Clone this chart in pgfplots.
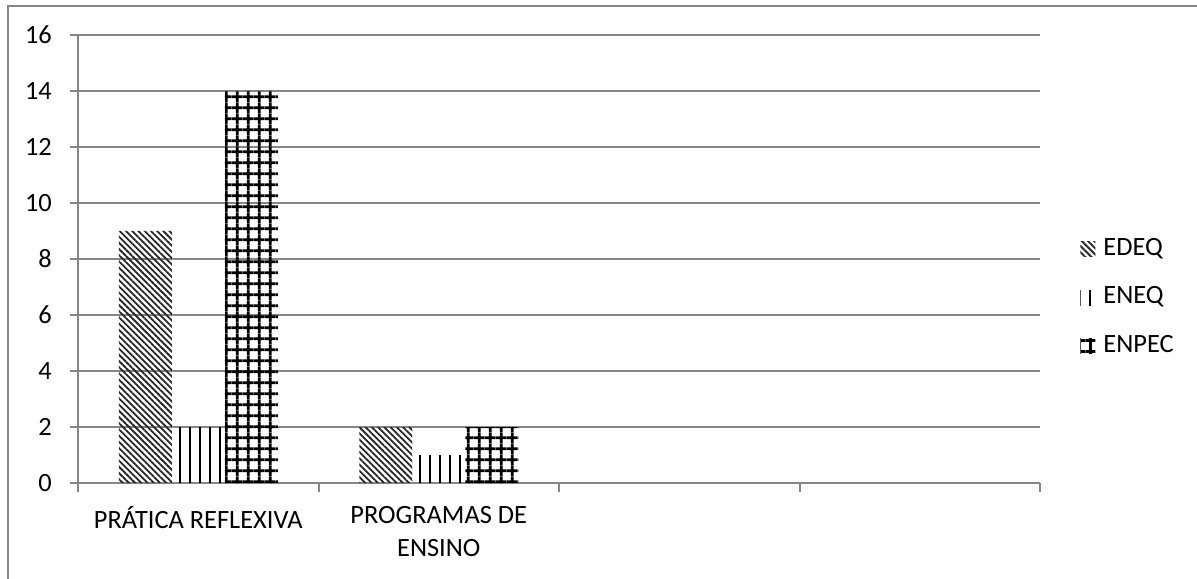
\documentclass[border=0pt]{standalone}
\usepackage{fontspec}
\setmainfont{Carlito}
\usepackage{pgfplots}
\pgfplotsset{compat=1.18}
\usetikzlibrary{patterns.meta}
\definecolor{axisgray}{RGB}{134,134,134}
\begin{document}
\fontsize{13.2}{16}\selectfont
\begin{tikzpicture}
\useasboundingbox (0,0) rectangle (598.5pt,289pt);
% outer chart frame
\draw[axisgray, line width=1pt] (4pt,-2pt) -- (4pt,286pt) -- (602pt,286pt);
\begin{axis}[
  at={(39pt,47.5pt)}, anchor=south west,
  scale only axis, width=481pt, height=224pt,
  xmin=-0.5, xmax=3.5, ymin=0, ymax=16,
  ytick={0,2,...,16},
  xtick={0,1,2,3},
  xticklabels={PRÁTICA REFLEXIVA,{PROGRAMAS DE\\ENSINO},,},
  minor xtick={-0.5,0.5,1.5,2.5,3.5},
  major x tick style={draw=none},
  axis x line*=bottom, axis y line*=left,
  axis line style={axisgray, line width=1pt},
  ymajorgrids, grid style={axisgray, line width=1pt},
  tick style={axisgray, line width=1pt},
  major tick length=4pt, minor tick length=4.5pt, tick align=outside,
  /pgf/number format/assume math mode=true,
  ticklabel style={font=\fontsize{13.2}{16.5}\selectfont},
  yticklabel style={xshift=-4.5pt},
  xticklabel style={align=center, yshift=-3pt},
  ybar, bar width=26.5pt,
  legend style={at={(1.0416,0.413)}, anchor=west, draw=none, fill=none,
    inner sep=0pt, row sep=12.25pt,
    nodes={text height=9pt, text depth=3pt, inner sep=0pt},
    font=\fontsize{13.2}{16}\selectfont},
  legend cell align=left,
  /tikz/every odd column/.append style={column sep=4pt},
]
\pgfplotsset{mylegend/.style={legend image code/.code={%
  \fill[##1,draw=none] (0pt,-3.75pt) rectangle (7.5pt,3.75pt);}}}
\addplot[draw=none, bar shift=-26.5pt, mylegend,
  pattern={Lines[angle=-45,distance=2.2pt,line width=0.9pt]}, pattern color=black!85]
  coordinates {(0,9) (1,2)};
\addplot[draw=none, bar shift=0pt, mylegend,
  pattern={Lines[angle=90,distance=5pt,line width=1pt]}, pattern color=black]
  coordinates {(0,2) (1,1)};
\addplot[draw=none, bar shift=26.5pt, mylegend,
  pattern={Hatch[angle=0,distance=5.4pt,line width=1.4pt]}, pattern color=black]
  coordinates {(0,14) (1,2)};
\legend{EDEQ,ENEQ,ENPEC}
\end{axis}
\end{tikzpicture}
\end{document}
